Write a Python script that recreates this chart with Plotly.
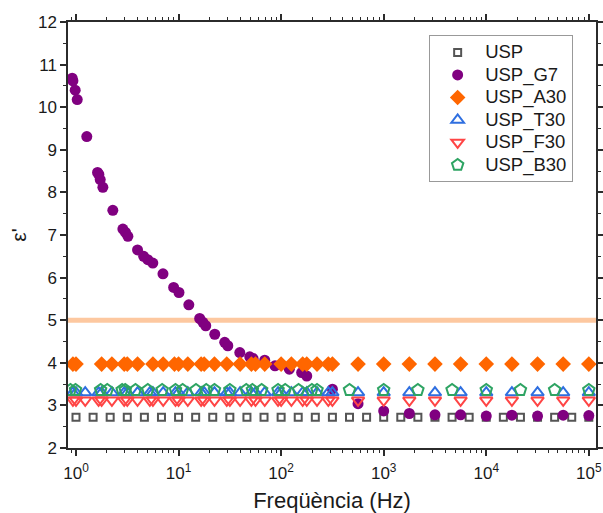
import plotly.graph_objects as go

# Dielectric permittivity (real part) versus frequency for each sample

# USP
f_usp = [1, 1.468, 2.154, 3.162, 4.642, 6.813, 10, 14.68, 21.54, 31.62, 46.42, 68.13,
         100, 146.8, 215.4, 316.2, 464.2, 681.3, 1000, 1468, 2154, 3162, 4642, 6813,
         10000, 14678, 21544, 31623, 46416, 68129, 100000]
e_usp = [2.72] * len(f_usp)

# USP_G7
f_g7 = [0.918, 0.933, 0.982, 1.028, 1.274, 1.622, 1.671, 1.722, 1.828, 2.286, 2.864,
        3.041, 3.206, 3.981, 4.571, 5.012, 5.610, 7.047, 8.954, 10.09, 12.59, 16.07,
        17.30, 18.41, 22.54, 28.18, 30.20, 39.54, 49.43, 53.33, 69.18, 87.10, 120.2,
        158.5, 177.8, 316.2, 562.3, 1000, 1778, 3162, 5623, 10000, 17783, 31623,
        56234, 100000]
e_g7 = [10.68, 10.62, 10.40, 10.18, 9.31, 8.47, 8.42, 8.30, 8.12, 7.58, 7.14,
        7.06, 6.97, 6.65, 6.50, 6.42, 6.34, 6.09, 5.77, 5.65, 5.36, 5.04,
        4.95, 4.87, 4.67, 4.48, 4.40, 4.24, 4.14, 4.10, 4.06, 3.93, 3.85,
        3.77, 3.69, 3.38, 3.04, 2.87, 2.81, 2.78, 2.78, 2.75, 2.77, 2.75,
        2.77, 2.76]

# USP_A30
f_a30 = [0.933, 1.0, 1.778, 2.239, 2.951, 3.162, 3.981, 5.623, 7.079, 9.120, 10,
         12.30, 16.60, 17.78, 22.39, 29.51, 39.81, 51.29, 56.23, 69.18, 100, 125.9,
         162.2, 177.8, 223.9, 288.4, 316.2, 562.3, 1000, 1778, 3162, 5623, 10000,
         17783, 31623, 56234, 100000]
e_a30 = [3.97] * len(f_a30)

# USP_T30 and USP_F30 (same frequency sweep)
f_tf = [0.933, 1.0, 1.230, 1.660, 1.778, 2.239, 2.951, 3.162, 3.981, 5.248, 5.623,
        7.079, 9.333, 10, 12.30, 16.60, 17.78, 22.39, 29.51, 31.62, 39.81, 51.29,
        56.23, 69.18, 93.33, 100, 125.9, 162.2, 177.8, 223.9, 288.4, 316.2, 562.3,
        1000, 1778, 3162, 5623, 10000, 17783, 31623, 56234, 100000]
e_t30 = [3.30] * len(f_tf)
e_f30 = [3.12] * len(f_tf)

# USP_B30
f_b30 = [0.883, 0.989, 1.738, 2.018, 2.818, 3.020, 3.802, 5.012, 6.918, 9.333, 10.96,
         14.79, 18.62, 22.39, 31.62, 45.71, 52.48, 64.57, 93.33, 109.6, 147.9, 199.5,
         223.9, 464.2, 1000, 2154, 4642, 10000, 21544, 46416, 100000]
e_b30 = [3.36] * len(f_b30)

# reference level
ref_level = 5.0

# axis ticks
x_tickvals = [1, 10, 100, 1000, 10000, 100000]
x_ticktext = ["10<sup>0</sup>", "10<sup>1</sup>", "10<sup>2</sup>",
              "10<sup>3</sup>", "10<sup>4</sup>", "10<sup>5</sup>"]
y_tickvals = list(range(2, 13))

FONT = "Liberation Sans, Arial, sans-serif"
AXIS = "#2b2b2b"
TEXT = "#1a1a1a"


def legend_label(name):
    # larger label text inside a compact legend row
    return f'<span style="font-size:18.5px">{name}</span>'


series = [
    ("USP", f_usp, e_usp, dict(symbol="square-open", size=7, color="#555555",
                               line=dict(width=2, color="#555555"))),
    ("USP_G7", f_g7, e_g7, dict(symbol="circle", size=11, color="#800080",
                                line=dict(width=0))),
    ("USP_A30", f_a30, e_a30, dict(symbol="diamond", size=12, color="#FF6600",
                                   line=dict(width=0))),
    ("USP_T30", f_tf, e_t30, dict(symbol="triangle-up-open", size=11, color="#2F6FE0",
                                  line=dict(width=2, color="#2F6FE0"))),
    ("USP_F30", f_tf, e_f30, dict(symbol="triangle-down-open", size=11, color="#FF4545",
                                  line=dict(width=2, color="#FF4545"))),
    ("USP_B30", f_b30, e_b30, dict(symbol="pentagon-open", size=12, color="#2EA463",
                                   line=dict(width=2, color="#2EA463"))),
]

fig = go.Figure()
for name, fx, ey, mk in series:
    fig.add_trace(go.Scatter(x=fx, y=ey, mode="markers", name=legend_label(name),
                             marker=mk))

fig.add_hline(y=ref_level, line=dict(color="#FDC8A0", width=5), layer="below")

fig.update_layout(
    width=603, height=513,
    margin=dict(l=68, r=7, t=22, b=65, autoexpand=False),
    paper_bgcolor="white", plot_bgcolor="white",
    font=dict(family=FONT, size=17, color=TEXT),
    showlegend=True,
    legend=dict(x=0.684, y=0.969, xanchor="left", yanchor="top",
                bgcolor="white", bordercolor="#999999", borderwidth=1,
                font=dict(family=FONT, size=15, color=TEXT),
                itemwidth=45),
)

fig.update_xaxes(
    type="log", range=[-0.078, 5.07], automargin=False,
    tickvals=x_tickvals, ticktext=x_ticktext,
    ticks="outside", ticklen=6, tickwidth=1.5, tickcolor=AXIS,
    minor=dict(ticks="outside", ticklen=3, tickwidth=1.2, tickcolor=AXIS, dtick="D1",
               showgrid=False),
    showline=True, linecolor=AXIS, linewidth=1.5, mirror="ticks",
    showgrid=False, zeroline=False,
    tickfont=dict(family=FONT, size=17, color=TEXT),
    ticklabelstandoff=3,
    title=dict(text="Freqüència (Hz)", font=dict(family=FONT, size=22, color=TEXT),
               standoff=12),
)
fig.update_yaxes(
    range=[2, 12], tickvals=y_tickvals, automargin=False,
    ticks="outside", ticklen=6, tickwidth=1.5, tickcolor=AXIS,
    minor=dict(ticks="outside", ticklen=3, tickwidth=1.2, tickcolor=AXIS, dtick=0.5,
               showgrid=False),
    showline=True, linecolor=AXIS, linewidth=1.5, mirror="ticks",
    showgrid=False, zeroline=False,
    tickfont=dict(family=FONT, size=17, color=TEXT),
    title=dict(text="ε'", font=dict(family=FONT, size=21, color=TEXT),
               standoff=6),
)

fig.write_html("out.html")
